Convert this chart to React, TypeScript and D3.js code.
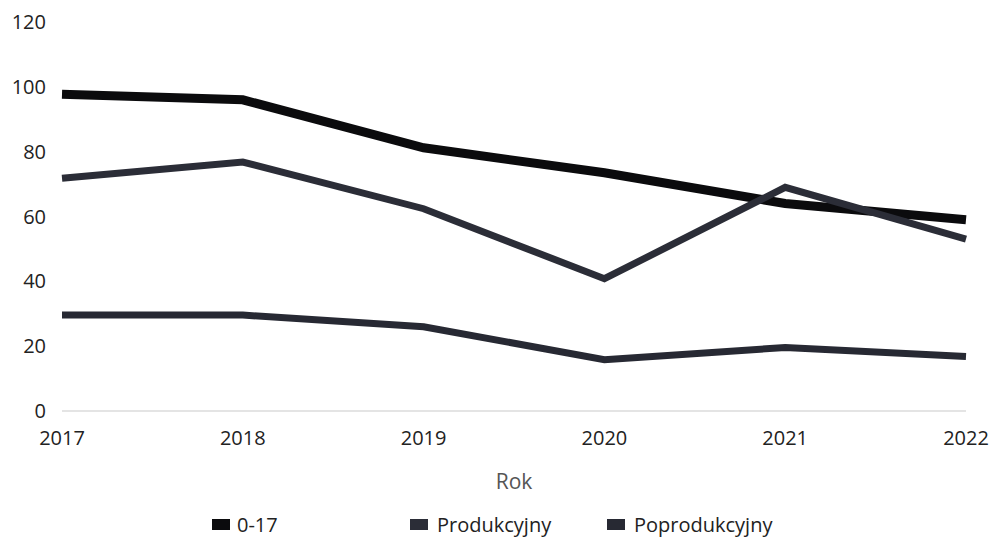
import React from "react";
import * as d3 from "d3";

const years = ["2017", "2018", "2019", "2020", "2021", "2022"];
const seriesNames = ["0-17", "Produkcyjny", "Poprodukcyjny"];
const values017 = [97.7, 96, 81.2, 73.5, 64, 59];
const valuesProd = [71.8, 76.8, 62.4, 40.8, 69, 53];
const valuesPoprod = [29.6, 29.6, 26, 15.8, 19.6, 16.8];
const yTicks = [0, 20, 40, 60, 80, 100, 120];

const colors = ["#0b0b0d", "#2b2d37", "#272933"];
const widths = [9, 7, 7];

export default function App() {
  const W = 992, H = 544;
  const x = d3.scalePoint<string>().domain(years).range([62, 966]);
  const y = d3.scaleLinear().domain([0, 120]).range([411, 22]);
  const line = d3
    .line<number>()
    .x((_, i) => x(years[i]) as number)
    .y((d) => y(d));
  const data = [values017, valuesProd, valuesPoprod];
  const font = "'Open Sans', 'Noto Sans', sans-serif";
  const legendSq = [212, 410, 607];
  const legendTx = [237, 437, 634];

  return (
    <svg
      width={W}
      height={H}
      style={{ position: "absolute", left: 0, top: 0, background: "#fff" }}
      fontFamily={font}
    >
      <rect width={W} height={H} fill="#fff" />
      <line x1={62} x2={966} y1={y(0)} y2={y(0)} stroke="#e4e4e4" strokeWidth={2} />
      {yTicks.map((t) => (
        <text
          key={t}
          x={46}
          y={y(t)}
          dy="0.35em"
          textAnchor="end"
          fontSize={20}
          fill="#222"
        >
          {t}
        </text>
      ))}
      {years.map((yr) => (
        <text
          key={yr}
          x={x(yr) as number}
          y={438}
          dy="0.35em"
          textAnchor="middle"
          fontSize={20}
          fill="#222"
        >
          {yr}
        </text>
      ))}
      <text x={514} y={482} dy="0.35em" textAnchor="middle" fontSize={21} fill="#555">
        Rok
      </text>
      {data.map((vals, i) => (
        <path
          key={i}
          d={line(vals) || ""}
          fill="none"
          stroke={colors[i]}
          strokeWidth={widths[i]}
          strokeLinejoin="miter"
        />
      ))}
      {seriesNames.map((n, i) => (
        <g key={n}>
          <rect x={legendSq[i]} y={519} width={18} height={11} fill={colors[i]} />
          <text x={legendTx[i]} y={525} dy="0.35em" fontSize={20} fill="#222">
            {n}
          </text>
        </g>
      ))}
    </svg>
  );
}
